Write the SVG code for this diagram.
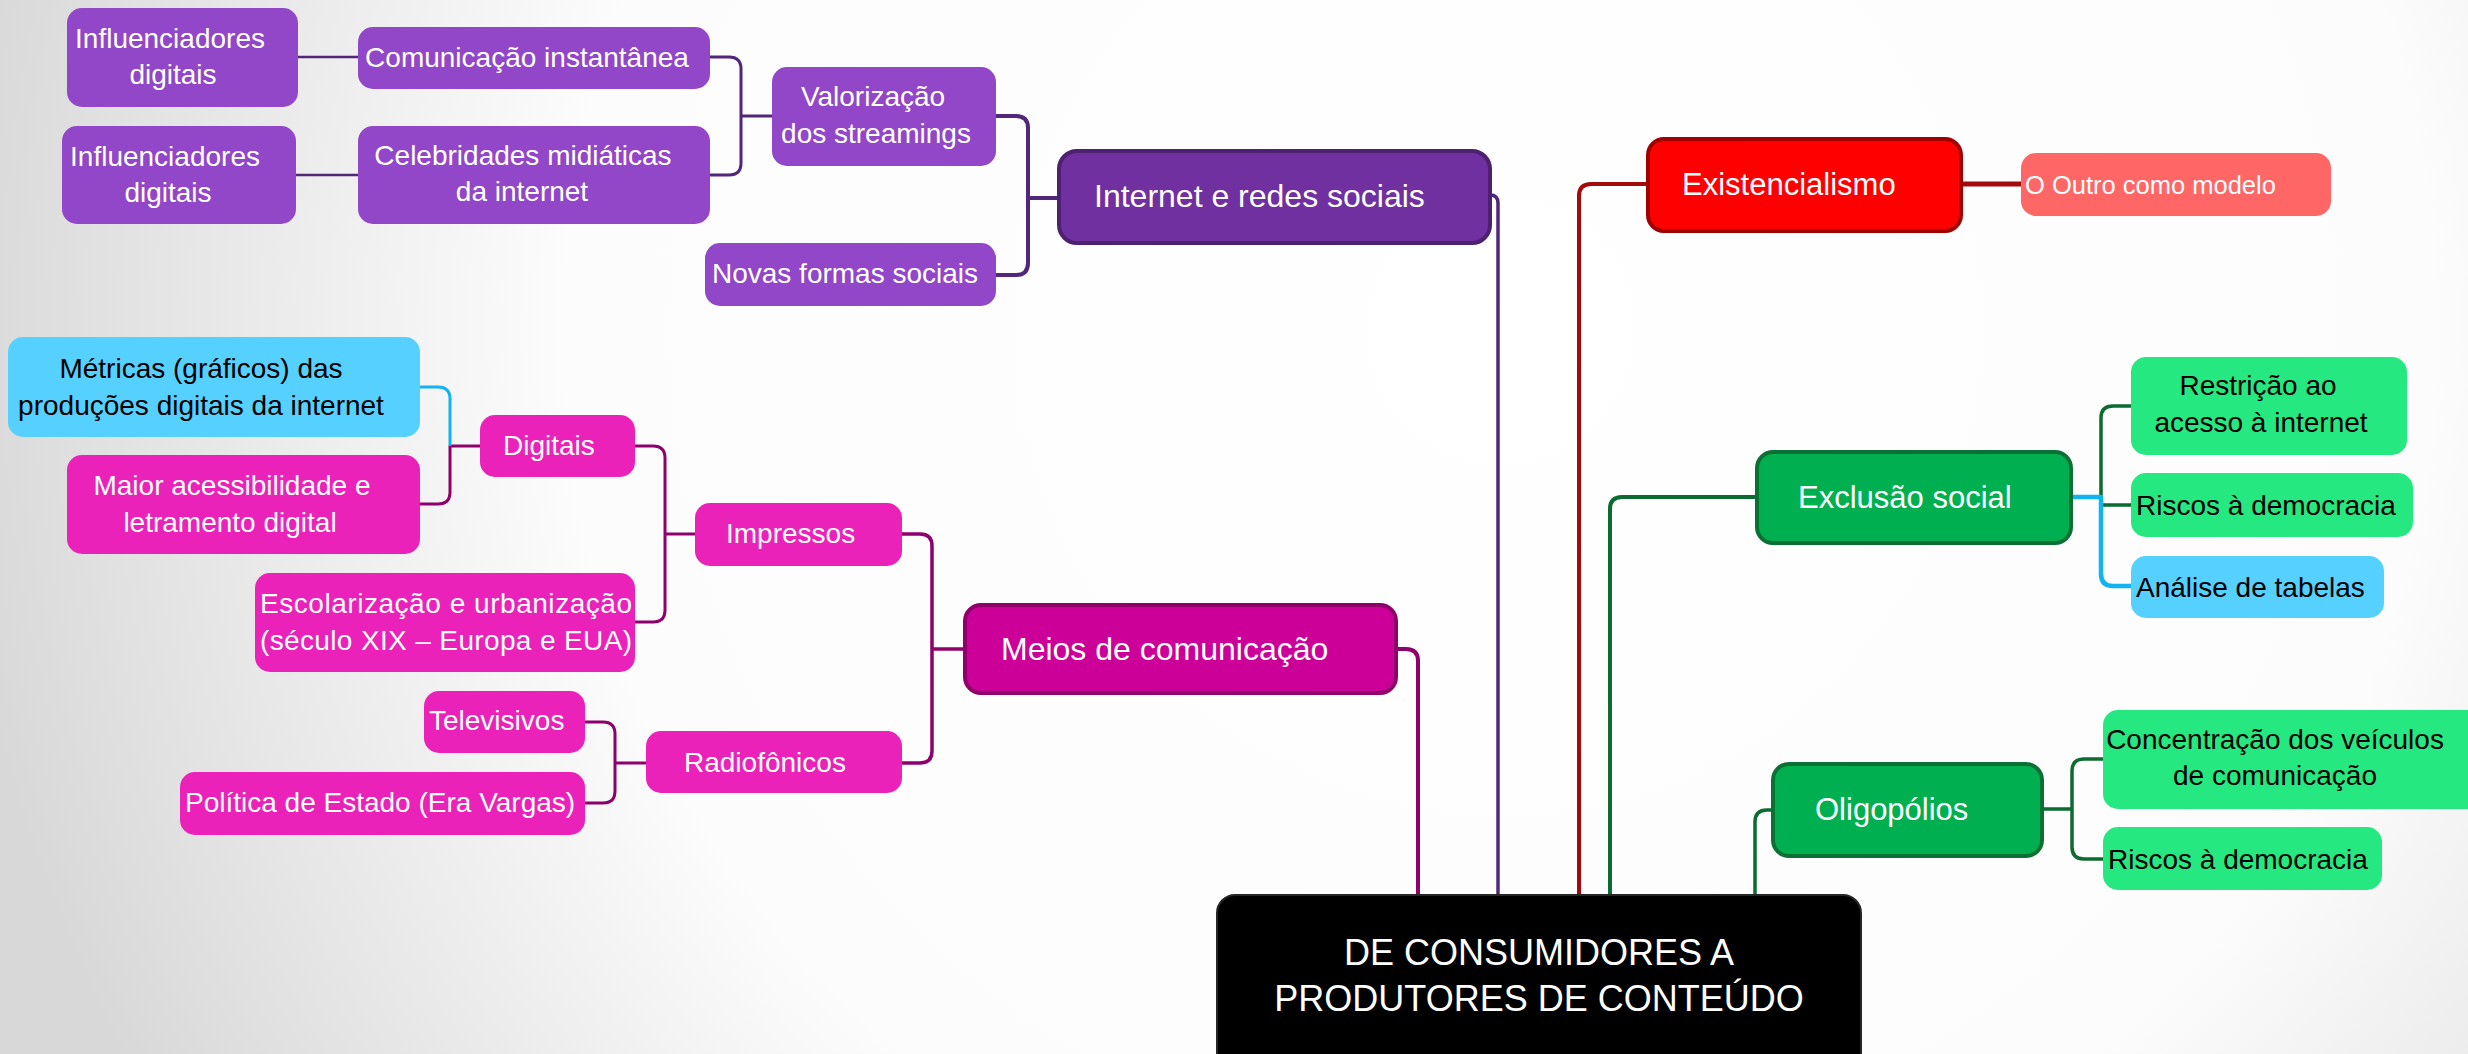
<svg xmlns="http://www.w3.org/2000/svg" width="2468" height="1054" viewBox="0 0 2468 1054">
<defs>
<radialGradient id="bg" gradientUnits="userSpaceOnUse" cx="1500" cy="330" r="1560">
<stop offset="0" stop-color="#ffffff"/>
<stop offset="0.6" stop-color="#fcfcfc"/>
<stop offset="1" stop-color="#d8d8d8"/>
</radialGradient>
<style>
text{font-family:"Liberation Sans",Arial,Helvetica,sans-serif;}
.w{fill:#ffffff;}
.k{fill:#000000;}
.f28{font-size:28px;}
.f31{font-size:31px;}
.f32{font-size:32px;}
.mid{text-anchor:middle;}
.pur{fill:#9147c8;}
.mag{fill:#eb22b9;}
.blu{fill:#55d0ff;}
.grn{fill:#25e980;}
.c{fill:none;stroke-linecap:butt;stroke-linejoin:round;}
.cp{stroke:#52277a;}
.cm{stroke:#8e006b;}
.cr{stroke:#a30b0b;}
.cg{stroke:#0b6b30;}
.cb{stroke:#12b3f2;}
</style>
</defs>
<rect x="0" y="0" width="2468" height="1054" fill="url(#bg)"/>

<g id="connectors">
<!-- purple subtree -->
<path class="c cp" stroke-width="2.5" d="M298,57 H358"/>
<path class="c cp" stroke-width="2.5" d="M296,175 H358"/>
<path class="c cp" stroke-width="3" d="M710,57 H729 Q741,57 741,69 V163 Q741,175 729,175 H710 M741,116 H772"/>
<path class="c cp" stroke-width="4" d="M996,116 H1016 Q1028,116 1028,128 V263 Q1028,275 1016,275 H996 M1028,198 H1057"/>
<path class="c cp" stroke-width="3.5" d="M1490,195 Q1498,195 1498,203 V895"/>
<!-- magenta subtree -->
<path class="c cm" stroke-width="4" d="M1398,649 H1406 Q1418,649 1418,661 V895"/>
<path class="c cm" stroke-width="3.5" d="M902,534 H920 Q932,534 932,546 V751 Q932,763 920,763 H902 M932,649 H963"/>
<path class="c cm" stroke-width="3" d="M635,446 H653 Q665,446 665,458 V610 Q665,622 653,622 H635 M665,534 H695"/>
<path class="c cm" stroke-width="3" d="M420,504 H438 Q450,504 450,492 V446 H480"/>
<path class="c cb" stroke-width="3" d="M420,387 H438 Q450,387 450,399 V446"/>
<path class="c cm" stroke-width="3" d="M585,722 H603 Q615,722 615,734 V791 Q615,803 603,803 H585 M615,763 H646"/>
<!-- red -->
<path class="c cr" stroke-width="4" d="M1579,895 V196 Q1579,184 1591,184 H1646"/>
<path class="c cr" stroke-width="5" d="M1963,184 H2021"/>
<!-- exclusao -->
<path class="c cg" stroke-width="4" d="M1610,895 V509 Q1610,497 1622,497 H1755"/>
<path class="c cg" stroke-width="3.5" d="M2073,497 H2101 M2131,406 H2113 Q2101,406 2101,418 V505 H2131"/>
<path class="c cb" stroke-width="4.5" d="M2073,497 H2101 V574 Q2101,586 2113,586 H2131"/>
<!-- oligopolios -->
<path class="c cg" stroke-width="3.5" d="M1755,895 V822 Q1755,810 1767,810 H1771"/>
<path class="c cg" stroke-width="3.5" d="M2044,809 H2072 M2103,759 H2084 Q2072,759 2072,771 V847 Q2072,859 2084,859 H2103"/>
</g>

<g id="node-center">
<rect x="1217" y="895" width="644" height="180" rx="18" fill="#000000" stroke="#262626" stroke-width="2"/>
<text class="w mid" x="1539" y="965" font-size="36">DE CONSUMIDORES A</text>
<text class="w mid" x="1539" y="1011" font-size="36">PRODUTORES DE CONTEÚDO</text>
</g>

<g id="node-internet">
<rect x="1059" y="151" width="431" height="92" rx="18" fill="#7030a0" stroke="#4d2070" stroke-width="4"/>
<text class="w f32" x="1094" y="207">Internet e redes sociais</text>
</g>
<g id="node-valorizacao">
<rect x="772" y="67" width="224" height="99" rx="15" class="pur"/>
<text class="w f28 mid" x="873" y="106">Valorização</text>
<text class="w f28 mid" x="876" y="143">dos streamings</text>
</g>
<g id="node-novas">
<rect x="705" y="243" width="291" height="63" rx="15" class="pur"/>
<text class="w f28 mid" x="845" y="283">Novas formas sociais</text>
</g>
<g id="node-comunicacao">
<rect x="358" y="27" width="352" height="62" rx="15" class="pur"/>
<text class="w f28 mid" x="527" y="67">Comunicação instantânea</text>
</g>
<g id="node-celebridades">
<rect x="358" y="126" width="352" height="98" rx="15" class="pur"/>
<text class="w f28 mid" x="523" y="165">Celebridades midiáticas</text>
<text class="w f28 mid" x="522" y="201">da internet</text>
</g>
<g id="node-influenciadores1">
<rect x="67" y="8" width="231" height="99" rx="15" class="pur"/>
<text class="w f28 mid" x="170" y="48">Influenciadores</text>
<text class="w f28 mid" x="173" y="84">digitais</text>
</g>
<g id="node-influenciadores2">
<rect x="62" y="126" width="234" height="98" rx="15" class="pur"/>
<text class="w f28 mid" x="165" y="166">Influenciadores</text>
<text class="w f28 mid" x="168" y="202">digitais</text>
</g>

<g id="node-meios">
<rect x="965" y="605" width="431" height="88" rx="16" fill="#cc0099" stroke="#8f006b" stroke-width="4"/>
<text class="w f32" x="1001" y="660">Meios de comunicação</text>
</g>
<g id="node-impressos">
<rect x="695" y="503" width="207" height="63" rx="15" class="mag"/>
<text class="w f28" x="726" y="543">Impressos</text>
</g>
<g id="node-radiofonicos">
<rect x="646" y="731" width="256" height="62" rx="15" class="mag"/>
<text class="w f28" x="684" y="772">Radiofônicos</text>
</g>
<g id="node-digitais">
<rect x="480" y="415" width="155" height="62" rx="15" class="mag"/>
<text class="w f28" x="503" y="455">Digitais</text>
</g>
<g id="node-escolarizacao">
<rect x="255" y="573" width="380" height="99" rx="15" class="mag"/>
<text class="w f28" x="260" y="613" textLength="372">Escolarização e urbanização</text>
<text class="w f28" x="260" y="650" textLength="372">(século XIX – Europa e EUA)</text>
</g>
<g id="node-metricas">
<rect x="8" y="337" width="412" height="100" rx="15" class="blu"/>
<text class="k f28 mid" x="201" y="378">Métricas (gráficos) das</text>
<text class="k f28 mid" x="201" y="415">produções digitais da internet</text>
</g>
<g id="node-maior">
<rect x="67" y="455" width="353" height="99" rx="15" class="mag"/>
<text class="w f28 mid" x="232" y="495">Maior acessibilidade e</text>
<text class="w f28 mid" x="230" y="532">letramento digital</text>
</g>
<g id="node-televisivos">
<rect x="424" y="691" width="161" height="62" rx="15" class="mag"/>
<text class="w f28" x="429" y="730">Televisivos</text>
</g>
<g id="node-politica">
<rect x="180" y="772" width="405" height="63" rx="15" class="mag"/>
<text class="w f28" x="185" y="812">Política de Estado (Era Vargas)</text>
</g>

<g id="node-existencialismo">
<rect x="1648" y="139" width="313" height="92" rx="16" fill="#ff0000" stroke="#a00000" stroke-width="4"/>
<text class="w f31" x="1682" y="195">Existencialismo</text>
</g>
<g id="node-outro">
<rect x="2021" y="153" width="310" height="63" rx="15" fill="#ff6666"/>
<text class="w" font-size="25.5" x="2025" y="194">O Outro como modelo</text>
</g>

<g id="node-exclusao">
<rect x="1757" y="452" width="314" height="91" rx="16" fill="#00b050" stroke="#0a7033" stroke-width="4"/>
<text class="w f31" x="1798" y="508">Exclusão social</text>
</g>
<g id="node-restricao">
<rect x="2131" y="357" width="276" height="98" rx="15" class="grn"/>
<text class="k f28 mid" x="2258" y="395">Restrição ao</text>
<text class="k f28 mid" x="2261" y="432">acesso à internet</text>
</g>
<g id="node-riscos1">
<rect x="2131" y="473" width="282" height="64" rx="15" class="grn"/>
<text class="k f28" x="2136" y="515">Riscos à democracia</text>
</g>
<g id="node-analise">
<rect x="2131" y="556" width="253" height="62" rx="15" class="blu"/>
<text class="k f28" x="2136" y="597">Análise de tabelas</text>
</g>

<g id="node-oligopolios">
<rect x="1773" y="764" width="269" height="92" rx="16" fill="#00b050" stroke="#0a7033" stroke-width="4"/>
<text class="w f31" x="1815" y="820">Oligopólios</text>
</g>
<g id="node-concentracao">
<rect x="2103" y="710" width="390" height="99" rx="15" class="grn"/>
<text class="k f28 mid" x="2275" y="749">Concentração dos veículos</text>
<text class="k f28 mid" x="2275" y="785">de comunicação</text>
</g>
<g id="node-riscos2">
<rect x="2103" y="827" width="279" height="63" rx="15" class="grn"/>
<text class="k f28" x="2108" y="869">Riscos à democracia</text>
</g>
</svg>
